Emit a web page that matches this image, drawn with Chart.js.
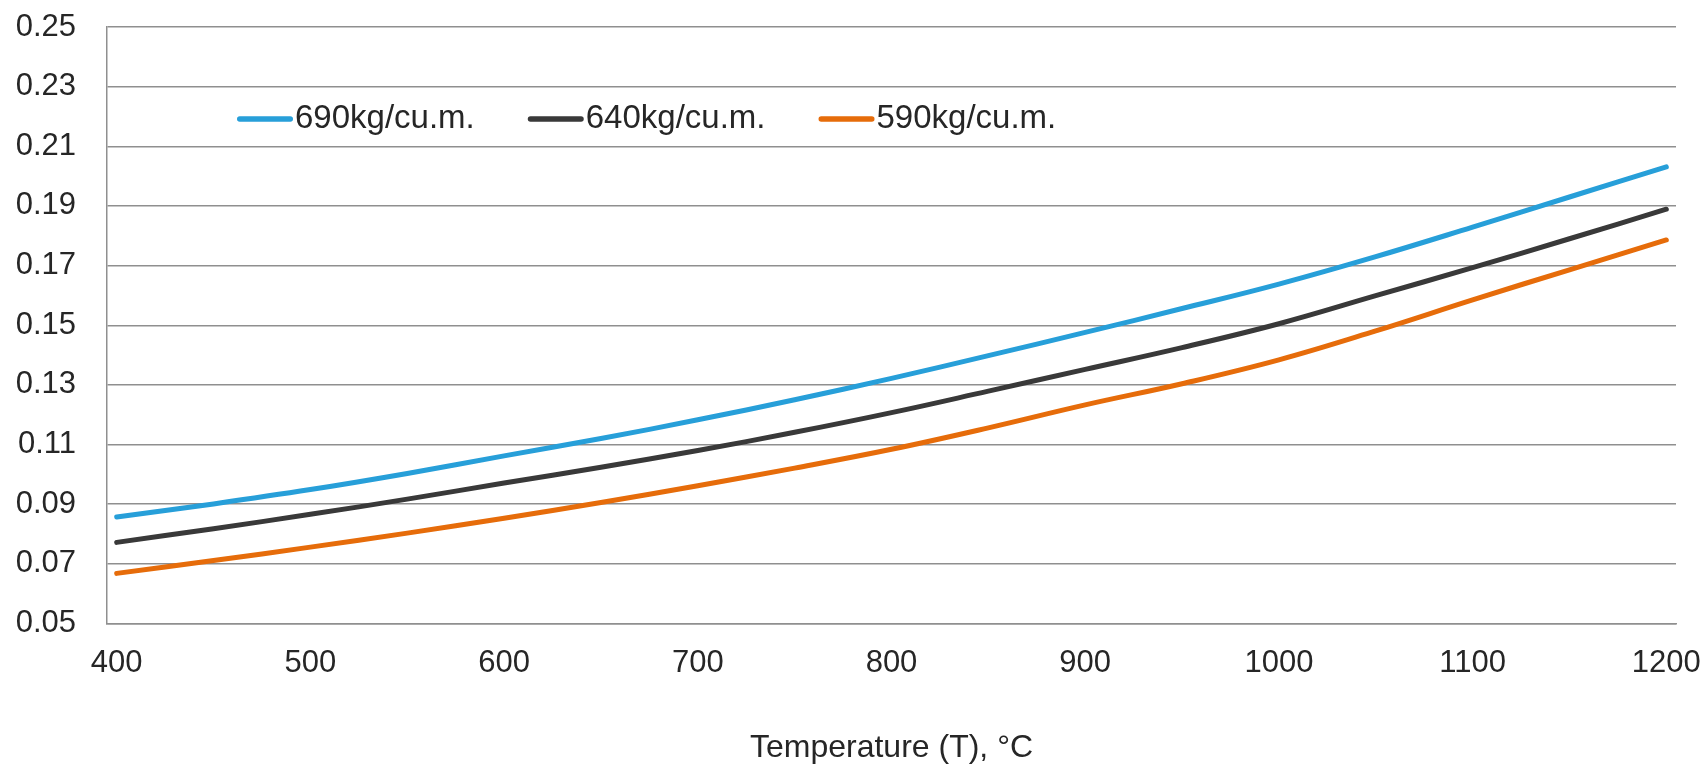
<!DOCTYPE html>
<html>
<head>
<meta charset="utf-8">
<title>Thermal conductivity vs temperature</title>
<script src="https://cdn.jsdelivr.net/npm/chart.js@4.4.1/dist/chart.umd.min.js"></script>
<style>
    html, body { margin: 0; padding: 0; background: #ffffff; }
    #wrap { width: 1706px; height: 764px; position: relative; }
</style>
</head>
<body>
<div id="wrap"><canvas id="densityChart"></canvas></div>
<script>
// Values
const temperatures = [400, 450, 500, 550, 600, 650, 700, 750, 800, 850, 900, 950, 1000, 1050, 1100, 1150, 1200];
const density690 = [0.0857, 0.0901, 0.0949, 0.1003, 0.1062, 0.1120, 0.1183, 0.1250, 0.1322, 0.1398, 0.1476, 0.1556, 0.1638, 0.1730, 0.1829, 0.1930, 0.2031];
const density640 = [0.0772, 0.0818, 0.0866, 0.0917, 0.0971, 0.1024, 0.1080, 0.1141, 0.1207, 0.1279, 0.1352, 0.1425, 0.1505, 0.1599, 0.1693, 0.1790, 0.1889];
const density590 = [0.0668, 0.0711, 0.0756, 0.0803, 0.0853, 0.0906, 0.0962, 0.1021, 0.1084, 0.1156, 0.1233, 0.1304, 0.1384, 0.1481, 0.1585, 0.1686, 0.1786];
const seriesLabels = ['690kg/cu.m.', '640kg/cu.m.', '590kg/cu.m.'];
const xTicks = [400, 500, 600, 700, 800, 900, 1000, 1100, 1200];
const yTicks = [0.05, 0.07, 0.09, 0.11, 0.13, 0.15, 0.17, 0.19, 0.21, 0.23, 0.25];

const FONT = "'Liberation Sans', Arial, sans-serif";
const TEXT_COLOR = '#262626';
const GRID_COLOR = '#8f8f8f';

function toPoints(values) {
    return temperatures.map((t, i) => ({ x: t, y: values[i] }));
}

function makeDataset(label, values, color) {
    return {
        label: label,
        data: toPoints(values),
        borderColor: color,
        backgroundColor: color,
        borderWidth: 5,
        borderCapStyle: 'round',
        pointRadius: 0,
        pointHoverRadius: 0,
        tension: 0.4,
        fill: false
    };
}

// Legend drawn inside the plot area, like the original
const insideLegend = {
    id: 'insideLegend',
    afterDatasetsDraw(chart) {
        const ctx = chart.ctx;
        const area = chart.chartArea;
        let x = area.left + 130;
        const y = area.top + 92;
        ctx.save();
        ctx.font = '33px ' + FONT;
        ctx.textBaseline = 'middle';
        ctx.textAlign = 'left';
        chart.data.datasets.forEach(ds => {
            ctx.strokeStyle = ds.borderColor;
            ctx.lineWidth = 5.5;
            ctx.lineCap = 'round';
            ctx.beginPath();
            ctx.moveTo(x + 2.75, y);
            ctx.lineTo(x + 53.25, y);
            ctx.stroke();
            ctx.fillStyle = TEXT_COLOR;
            ctx.fillText(ds.label, x + 58, y);
            x += 58 + ctx.measureText(ds.label).width + 53;
        });
        ctx.restore();
    }
};

document.addEventListener('DOMContentLoaded', () => {
    const ctx = document.getElementById('densityChart').getContext('2d');

    new Chart(ctx, {
        type: 'line',
        data: {
            datasets: [
                makeDataset(seriesLabels[0], density690, '#279fd9'),
                makeDataset(seriesLabels[1], density640, '#393939'),
                makeDataset(seriesLabels[2], density590, '#e66c0a')
            ]
        },
        options: {
            responsive: true,
            maintainAspectRatio: false,
            animation: false,
            layout: {
                padding: { left: 0, top: 27, right: 30, bottom: 0 }
            },
            plugins: {
                legend: { display: false },
                tooltip: { enabled: false },
                title: { display: false }
            },
            scales: {
                x: {
                    type: 'linear',
                    min: 395,
                    max: 1205,
                    afterBuildTicks: scale => {
                        scale.ticks = xTicks.map(v => ({ value: v }));
                    },
                    afterFit: scale => {
                        scale.height = 140.5;
                        scale.paddingLeft = 0;
                        scale.paddingRight = 0;
                    },
                    ticks: {
                        color: TEXT_COLOR,
                        font: { family: FONT, size: 31 },
                        padding: 21,
                        maxRotation: 0,
                        autoSkip: false,
                        callback: value => String(value)
                    },
                    grid: { drawOnChartArea: false, drawTicks: false },
                    border: { display: true, color: GRID_COLOR, width: 1.5 },
                    title: {
                        display: true,
                        text: 'Temperature (T), °C',
                        color: TEXT_COLOR,
                        font: { family: FONT, size: 32, lineHeight: 1 },
                        padding: { top: 0, bottom: 0 }
                    }
                },
                y: {
                    min: 0.05,
                    max: 0.25,
                    afterBuildTicks: scale => {
                        scale.ticks = yTicks.map(v => ({ value: v }));
                    },
                    afterFit: scale => {
                        scale.width = 107;
                        scale.paddingTop = 0;
                        scale.paddingBottom = 0;
                    },
                    ticks: {
                        color: TEXT_COLOR,
                        font: { family: FONT, size: 31 },
                        padding: 31,
                        callback: value => Number(value).toFixed(2)
                    },
                    grid: { color: GRID_COLOR, lineWidth: 1.5, drawTicks: false },
                    border: { display: true, color: GRID_COLOR, width: 1.5 }
                }
            }
        },
        plugins: [insideLegend]
    });
});
</script>
</body>
</html>
